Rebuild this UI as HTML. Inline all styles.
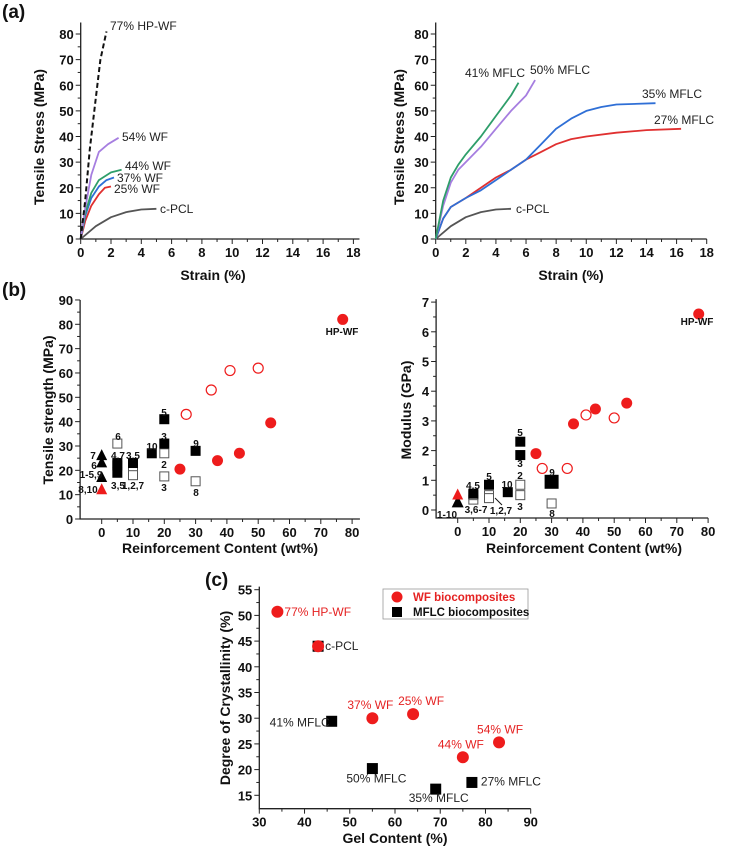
<!DOCTYPE html>
<html><head><meta charset="utf-8">
<style>
html,body{margin:0;padding:0;background:#fff;}
svg{display:block;font-family:"Liberation Sans","DejaVu Sans",sans-serif;}
.tk{font-weight:bold;font-size:13px;fill:#111;}
.ttl{font-weight:bold;font-size:14px;fill:#111;}
.lab{font-size:12px;fill:#222;}
.pl{font-weight:bold;font-size:19px;fill:#111;}
.sm{font-weight:bold;font-size:10px;fill:#111;}
.lg{font-weight:bold;font-size:11.5px;fill:#111;}
</style></head>
<body>
<svg id="fig" width="735" height="857" viewBox="0 0 735 857">
<text class="pl" x="2" y="18">(a)</text>
<text class="pl" x="2" y="296">(b)</text>
<text class="pl" x="205" y="586">(c)</text>
</svg>
<script>
// ---------- data ----------
const strainTicks=[0,2,4,6,8,10,12,14,16,18];
const stressTicks=[0,10,20,30,40,50,60,70,80];
const hpwfX=[0,0.3,0.6,1.0,1.3,1.7], hpwfY=[0,15,35,55,70,81];
const wf54X=[0,0.3,0.7,1.2,1.8,2.5], wf54Y=[0,12,25,34,37,39.5];
const wf44X=[0,0.3,0.7,1.2,2.0,2.7], wf44Y=[0,10,18,23,26,27];
const wf37X=[0,0.3,0.7,1.2,1.7,2.2], wf37Y=[0,9,16,20.5,23,24];
const wf25X=[0,0.3,0.7,1.2,1.6,2.0], wf25Y=[0,7,13,17.5,20,20.5];
const pclX=[0,1,2,3,4,5], pclY=[0,5,8.5,10.5,11.5,11.8];
const m41X=[0,0.5,1,1.5,2,3,4,5,5.5], m41Y=[0,15,24,29,33,40,48,56,61];
const m50X=[0,0.5,1,1.5,2,3,4,5,6,6.6], m50Y=[0,13,22,27,30,36,43,50,56,62];
const m35X=[0,0.5,1,2,3,4,5,6,7,8,9,10,11,12,14.6], m35Y=[0,8,12.5,16,19,23,27,31,37,43,47,50,51.5,52.5,53];
const m27X=[0,0.5,1,2,3,4,5,6,7,8,9,10,12,14,16.3], m27Y=[0,8,12.5,16,20,24,27,31,34,37,39,40,41.5,42.5,43];

const reinfTicks=[0,10,20,30,40,50,60,70,80];
const tsTicks=[0,10,20,30,40,50,60,70,80,90];
const modTicks=[0,1,2,3,4,5,6,7];
const wfFilledX=[25,37,44,54,77], wfFilledTS=[20.5,24,27,39.5,82], wfFilledMod=[1.9,2.9,3.4,3.6,6.6];
const wfOpenX=[27,35,41,50], wfOpenTS=[43,53,61,62], wfOpenMod=[1.4,1.4,3.2,3.1];
const triX=[0,0,0], triTS=[26,23,17];
const bFilledX=[5,5,10,16,20,20,30], bFilledTS=[19,23,23,27,41,31,28];
const bOpenX=[5,5,10,10,20,20,30], bOpenTS=[31,22,20,18,27,17.5,15.5];
const mFilledX=[5,10,16,20,20,30], mFilledMod=[0.55,0.85,0.6,2.3,1.85,0.95];
const mOpenX=[5,5,10,10,20,20,30], mOpenMod=[0.35,0.5,0.5,0.4,0.85,0.5,0.22];

const gelTicks=[30,40,50,60,70,80,90];
const crysTicks=[15,20,25,30,35,40,45,50,55];
const wfGel=[34,43,55,64,75,83], wfCrys=[50.7,44,30,30.8,22.4,25.3];
const wfNames=["77% HP-WF","","37% WF","25% WF","44% WF","54% WF"];
const mfGel=[46,55,69,77,43], mfCrys=[29.4,20.2,16.2,17.5,44];
const mfNames=["41% MFLC","50% MFLC","35% MFLC","27% MFLC","c-PCL"];

// ---------- helpers ----------
const NS="http://www.w3.org/2000/svg", svg=document.getElementById('fig');
function mk(tag,attrs,parent){const e=document.createElementNS(NS,tag);for(const k in attrs)e.setAttribute(k,attrs[k]);(parent||svg).appendChild(e);return e;}
function lin(d0,d1,p0,p1){return v=>p0+(v-d0)*(p1-p0)/(d1-d0);}
function axes(g,sx,sy,x0,x1,y0,y1,xt,yt,minorX,minorY){
  const L=sx(x0),R=sx(x1),B=sy(y0),T=sy(y1);
  const ax=mk('path',{d:`M${L},${T}V${B}H${R}`,stroke:'#222','stroke-width':1.3,fill:'none'},g);
  
  xt.forEach(v=>{mk('line',{x1:sx(v),x2:sx(v),y1:B,y2:B+5,stroke:'#222'},g);
    const t=mk('text',{x:sx(v),y:B+18,'text-anchor':'middle',class:'tk'},g);t.textContent=v;
    
    if(minorX){const m=sx(v+minorX);if(m<R)mk('line',{x1:m,x2:m,y1:B,y2:B+3,stroke:'#222'},g);}});
  yt.forEach(v=>{mk('line',{x1:L-5,x2:L,y1:sy(v),y2:sy(v),stroke:'#222'},g);
    const t=mk('text',{x:L-7,y:sy(v)+5,'text-anchor':'end',class:'tk'},g);t.textContent=v;
    
    if(minorY){const m=sy(v+minorY);if(m>T)mk('line',{x1:L-3,x2:L,y1:m,y2:m,stroke:'#222'},g);}});
}
function title(g,txt,x,y,rot,name){const t=mk('text',{x:x,y:y,'text-anchor':'middle',class:'ttl',transform:rot?`rotate(-90 ${x} ${y})`:''},g);t.textContent=txt;
  }
function curve(g,sx,sy,X,Y,col,name,dash){
  let d=X.map((x,i)=>(i?'L':'M')+sx(x).toFixed(1)+','+sy(Y[i]).toFixed(1)).join('');
  const p=mk('path',{d:d,stroke:col,'stroke-width':dash?2:1.8,fill:'none','stroke-dasharray':dash?'5,3':'','stroke-linejoin':'round'},g);
  }
function label(g,txt,x,y,cls,col,anchor,name){const t=mk('text',{x:x,y:y,class:cls,'text-anchor':anchor||'start'},g);t.textContent=txt;if(col)t.style.fill=col;
  }
function circ(g,x,y,r,open,name){const c=mk('circle',{cx:x,cy:y,r:r,fill:open?'#fff':'#ee1c1c',stroke:'#ee1c1c','stroke-width':open?1.2:0},g);
  }
function sq(g,x,y,s,open,name){const r=mk('rect',{x:x-s/2,y:y-s/2,width:s,height:s,fill:open?'#fff':'#000',stroke:open?'#555':'#000','stroke-width':1},g);
  }
function tri(g,x,y,s,col,name){const p=mk('path',{d:`M${x},${y-s*0.6}L${x+s/2},${y+s*0.4}L${x-s/2},${y+s*0.4}Z`,fill:col},g);
  }

// ---------- panel a left ----------
{const g=mk('g',{});
 const sx=lin(0,18,80.7,353.4), sy=lin(0,80,239,34);
 axes(g,sx,sy,0,18.4,0,84.5,strainTicks,stressTicks,1,5);
 title(g,'Tensile Stress (MPa)',44,137,true,'y-axis-title');title(g,'Strain (%)',213,280,false,'x-axis-title');
 curve(g,sx,sy,pclX,pclY,'#555','curve-c-pcl');
 curve(g,sx,sy,wf25X,wf25Y,'#e03030','curve-25-wf');
 curve(g,sx,sy,wf37X,wf37Y,'#2f6fd6','curve-37-wf');
 curve(g,sx,sy,wf44X,wf44Y,'#2e9e6a','curve-44-wf');
 curve(g,sx,sy,wf54X,wf54Y,'#a67ee0','curve-54-wf');
 curve(g,sx,sy,hpwfX,hpwfY,'#111','curve-77-hp-wf',true);
 label(g,'77% HP-WF',110,30,'lab');label(g,'54% WF',122,141,'lab');label(g,'44% WF',125,170,'lab');
 label(g,'37% WF',117,182,'lab');label(g,'25% WF',114,193,'lab');label(g,'c-PCL',160,213,'lab');}
// ---------- panel a right ----------
{const g=mk('g',{});
 const sx=lin(0,18,435.7,706.7), sy=lin(0,80,239,34);
 axes(g,sx,sy,0,18,0,84.5,strainTicks,stressTicks,1,5);
 title(g,'Tensile Stress (MPa)',404,137,true,'y-axis-title');title(g,'Strain (%)',571,280,false,'x-axis-title');
 curve(g,sx,sy,pclX,pclY,'#555','curve-c-pcl');
 curve(g,sx,sy,m27X,m27Y,'#e03030','curve-27-mflc');
 curve(g,sx,sy,m35X,m35Y,'#2f6fd6','curve-35-mflc');
 curve(g,sx,sy,m50X,m50Y,'#a67ee0','curve-50-mflc');
 curve(g,sx,sy,m41X,m41Y,'#2e9e6a','curve-41-mflc');
 label(g,'41% MFLC',465,77,'lab');label(g,'50% MFLC',530,74,'lab');label(g,'35% MFLC',642,98,'lab');
 label(g,'27% MFLC',654,124,'lab');label(g,'c-PCL',516,213,'lab');}
// ---------- panel b left ----------
{const g=mk('g',{});
 const sx=lin(0,10,101.7,133), sy=lin(0,80,519,324.3);
 axes(g,sx,sy,-6.9,82.5,0,90,reinfTicks,tsTicks,5,5);
 title(g,'Tensile strength (MPa)',53,410,true,'y-axis-title');title(g,'Reinforcement Content (wt%)',220,553,false,'x-axis-title');
 wfOpenX.forEach((x,i)=>circ(g,sx(x),sy(wfOpenTS[i]),5,true,'point-wf-open'));
 wfFilledX.forEach((x,i)=>circ(g,sx(x),sy(wfFilledTS[i]),5.5,false,'point-wf-filled'));
 bOpenX.forEach((x,i)=>sq(g,sx(x),sy(bOpenTS[i]),9,true,'point-literature-open'));
 bFilledX.forEach((x,i)=>sq(g,sx(x),sy(bFilledTS[i]),9,false,'point-literature-filled'));
 triX.forEach((x,i)=>tri(g,sx(x),sy(triTS[i]),11,'#000','point-literature-triangle'));
 tri(g,sx(0),sy(12),11,'#ee1c1c','point-pcl-triangle');
 [['7',93,459],['6',94,469],['1-5,9',91,478],['8,10',88,493],['6',118,440],['4,7',118,459],['3,5',118,489],
  ['3,5',133,459],['1,2,7',133,489],['10',152,450],['5',164,416],['3',164,440],['2',164,468],['3',164,491],['9',196,447],['8',196,496]]
  .forEach(a=>label(g,a[0],a[1],a[2],'sm',null,'middle','point-id-label'));
 label(g,'HP-WF',342,335,'sm',null,'middle','point-id-label');}
// ---------- panel b right ----------
{const g=mk('g',{});
 const sx=lin(0,10,457.7,489), sy=lin(0,1,510,480.3);
 axes(g,sx,sy,-6.9,80,-0.27,7.1,reinfTicks,modTicks,5,0.5);
 title(g,'Modulus (GPa)',411,410,true,'y-axis-title');title(g,'Reinforcement Content (wt%)',584,553,false,'x-axis-title');
 wfOpenX.forEach((x,i)=>circ(g,sx(x),sy(wfOpenMod[i]),5,true,'point-wf-open'));
 wfFilledX.forEach((x,i)=>circ(g,sx(x),sy(wfFilledMod[i]),5.5,false,'point-wf-filled'));
 mOpenX.forEach((x,i)=>sq(g,sx(x),sy(mOpenMod[i]),9,true,'point-literature-open'));
 mFilledX.forEach((x,i)=>sq(g,sx(x),sy(mFilledMod[i]),i==5?13:9,false,'point-literature-filled'));
 tri(g,sx(0),sy(0.25),12,'#000','point-literature-triangle');
 tri(g,sx(0),sy(0.5),11,'#ee1c1c','point-pcl-triangle');
 [['1-10',447,518],['4,5',473,489],['3,6-7',476,513],['5',489,480],['1,2,7',501,514],['10',507,488],
  ['5',520,436],['3',520,467],['2',520,479],['3',520,510],['9',552,476],['8',552,517]]
  .forEach(a=>label(g,a[0],a[1],a[2],'sm',null,'middle','point-id-label'));
 mk('line',{x1:495,y1:498,x2:502,y2:505,stroke:'#111','stroke-width':1},g);
 label(g,'HP-WF',697,325,'sm',null,'middle','point-id-label');}
// ---------- panel c ----------
{const g=mk('g',{});
 const sx=lin(30,90,259.3,530.7), sy=lin(15,55,795.3,589.7);
 axes(g,sx,sy,30,90,12.4,55.6,gelTicks,crysTicks,5,2.5);
 title(g,'Degree of Crystallinity (%)',230,698,true,'y-axis-title');title(g,'Gel Content (%)',395,843,false,'x-axis-title');
 mfGel.forEach((x,i)=>sq(g,sx(x),sy(mfCrys[i]),10,false,'point-mflc'));
 wfGel.forEach((x,i)=>circ(g,sx(x),sy(wfCrys[i]),6,false,'point-wf'));
 const wo=[[7,4],[0,0],[-25,-9],[-15,-9],[-25,-9],[-22,-9]];
 wfNames.forEach((n,i)=>{if(n)label(g,n,sx(wfGel[i])+wo[i][0],sy(wfCrys[i])+wo[i][1],'lab','#e52222','start','point-label');});
 const mo=[[-62,5],[-26,14],[-27,13],[9,3],[7,4]];
 mfNames.forEach((n,i)=>label(g,n,sx(mfGel[i])+mo[i][0],sy(mfCrys[i])+mo[i][1],'lab',null,'start','point-label'));
 const lg=mk('g',{},g);
 mk('rect',{x:383,y:589,width:145,height:30,fill:'#fff',stroke:'#999','stroke-width':0.8},lg);
 circ(lg,397,597,5.5,false,'legend-marker-wf');
 label(lg,'WF biocomposites',413,601,'lg','#e52222','start','legend-entry-wf');
 sq(lg,397,612,9,false,'legend-marker-mflc');
 label(lg,'MFLC biocomposites',413,616,'lg',null,'start','legend-entry-mflc');}
</script>
</body></html>
